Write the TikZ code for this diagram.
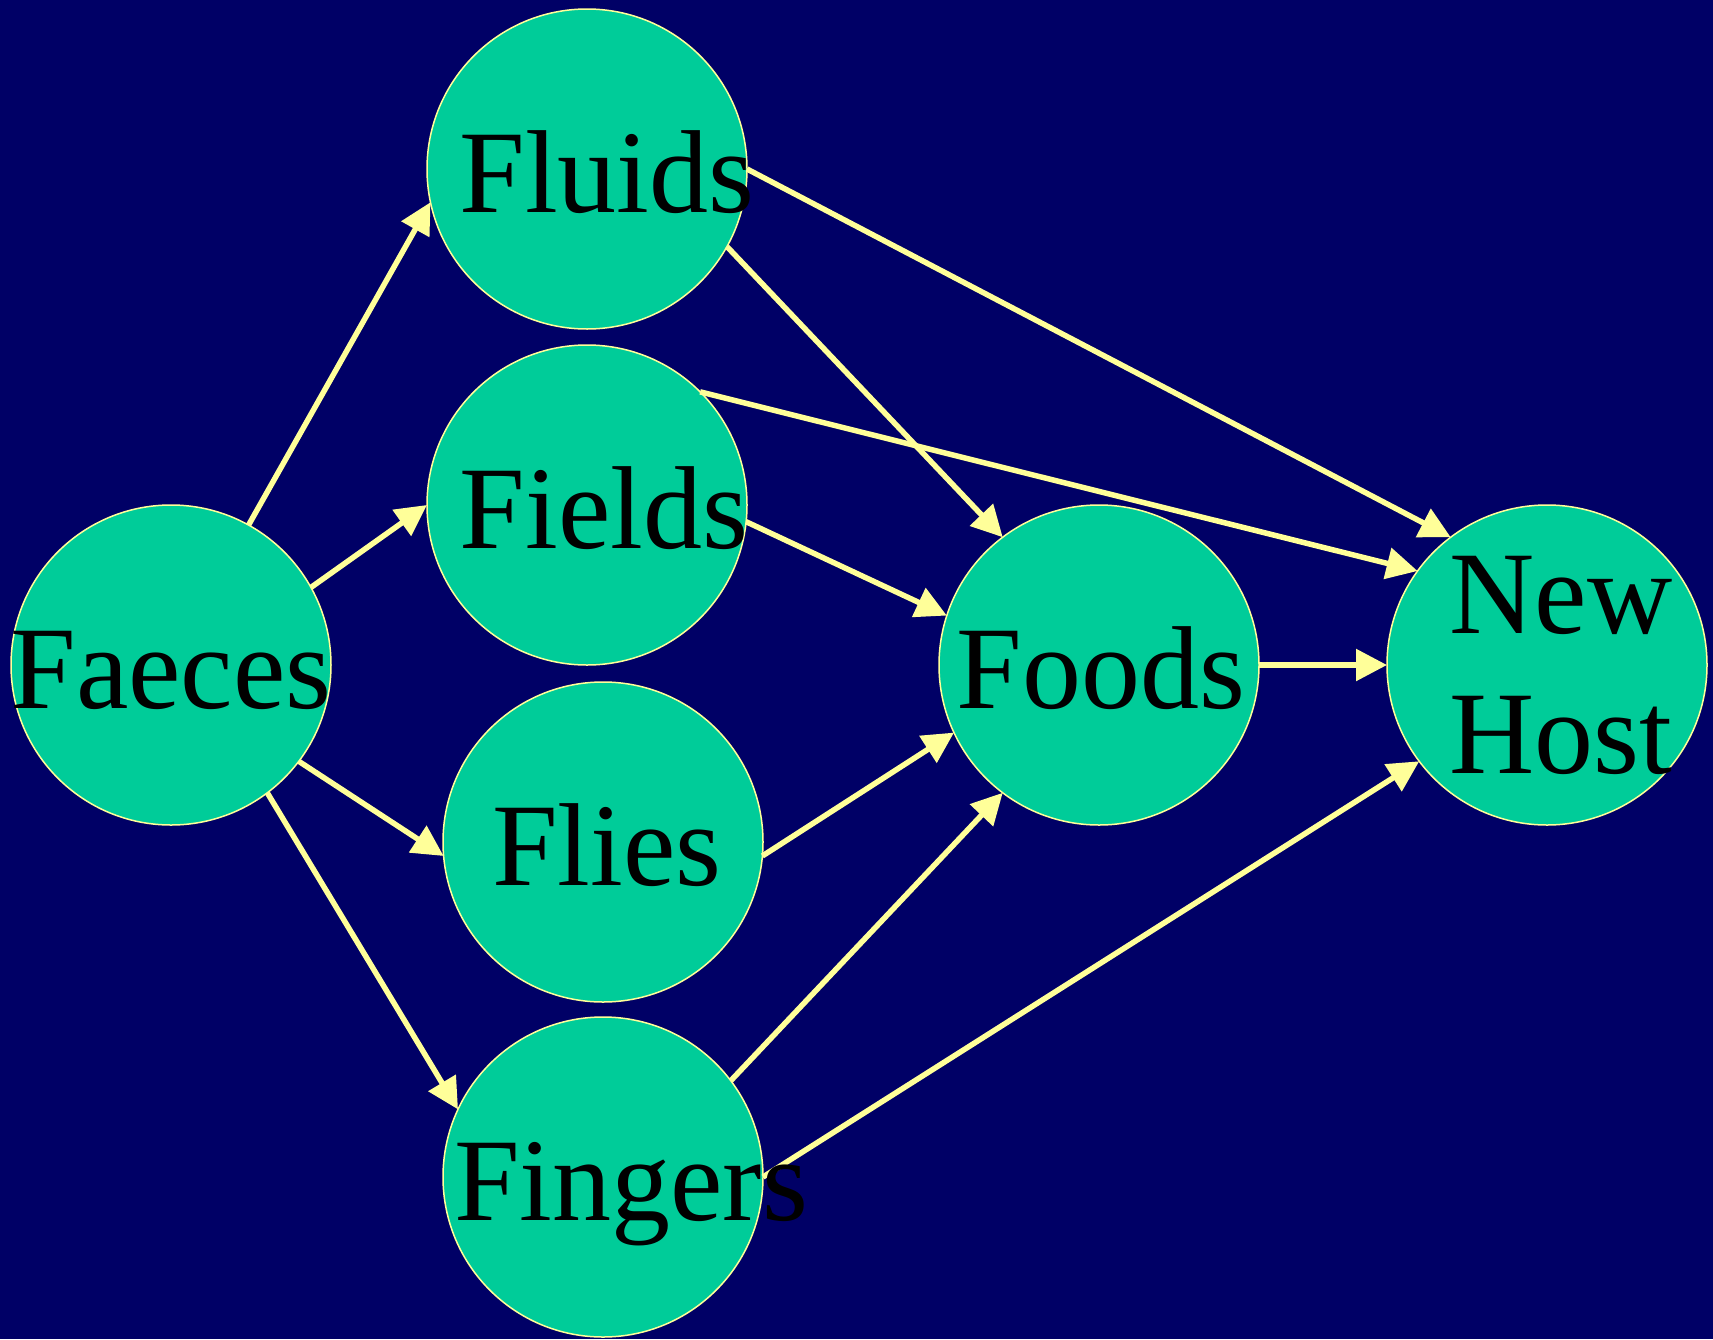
\documentclass[tikz,border=0pt]{standalone}
\usepackage{fontspec}
\setmainfont{Liberation Serif}
\usetikzlibrary{arrows.meta}
\definecolor{slidenavy}{RGB}{0,0,102}
\definecolor{blobgreen}{RGB}{0,204,153}
\definecolor{paleyellow}{RGB}{255,255,153}

\begin{document}
\begin{tikzpicture}[x=1pt, y=-1pt,
  stage/.style={circle, draw=paleyellow, line width=1.5pt, fill=blobgreen, minimum size=320pt, inner sep=0pt, outer sep=0pt},
  word/.style={font=\fontsize{118}{140}\selectfont, inner sep=0pt, anchor=base},
  flow/.style={draw=paleyellow, line width=5.5pt, -{Triangle[length=31pt,width=31pt]}}]
        \path[use as bounding box, fill=slidenavy] (0,0) rectangle (1713,1339);
        \node[stage] (faeces) at (171,665) {};
        \node[stage] (fluids) at (587,169) {};
        \node[stage] (fields) at (587,505) {};
        \node[stage] (flies) at (603,842) {};
        \node[stage] (fingers) at (603,1177) {};
        \node[stage] (foods) at (1099,665) {};
        \node[stage] (newhost) at (1547,665) {};
        \draw[flow] (faeces.61) -- (fluids.192);
        \draw[flow] (faeces.29) -- (fields.180);
        \draw[flow] (faeces.-37) -- (flies.185);
        \draw[flow] (faeces.-53) -- (fingers.155);
        \draw[flow] (fluids.0) -- (newhost.127);
        \draw[flow] (fluids.-29) -- (foods.127);
        \draw[flow] (fields.45) -- (newhost.144);
        \draw[flow] (fields.-6) -- (foods.162);
        \draw[flow] (flies.-5) -- (foods.205);
        \draw[flow] (fingers.37) -- (foods.233);
        \draw[flow] (fingers.0) -- (newhost.217);
        \draw[flow] (foods.0) -- (newhost.180);
        \node[word] (faecestext) at ([shift={(0,43)}]faeces.center) {Faeces};
        \node[word] (fluidstext) at ([shift={(20,43)}]fluids.center) {Fluids};
        \node[word] (fieldstext) at ([shift={(17,43)}]fields.center) {Fields};
        \node[word] (fliestext) at ([shift={(4,43)}]flies.center) {Flies};
        \node[word] (fingerstext) at ([shift={(28,43)}]fingers.center) {Fingers};
        \node[word] (foodstext) at ([shift={(2,43)}]foods.center) {Foods};
        \node[word, anchor=center, align=left] (newhosttext) at ([shift={(14,0)}]newhost.center) {New\\Host};
    \end{tikzpicture}
\end{document}
